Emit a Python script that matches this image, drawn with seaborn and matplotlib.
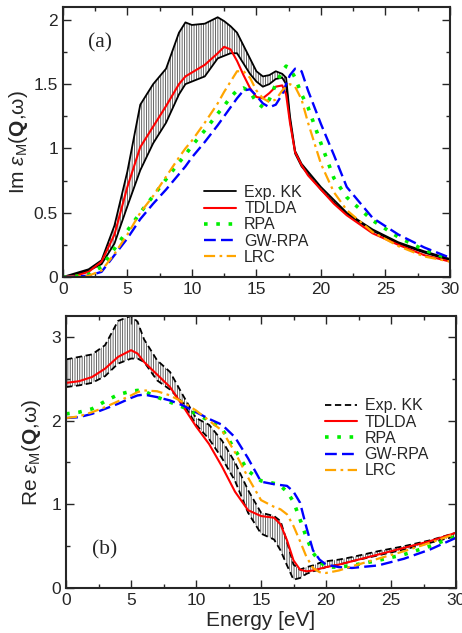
import numpy as np
import pandas as pd
import matplotlib
matplotlib.use("Agg")
import matplotlib.pyplot as plt
from matplotlib.ticker import MultipleLocator, FormatStrFormatter
import seaborn as sns

# ---------------- data: panel (a) Im eps ----------------
energy_a = [0, 1, 2, 3, 4, 5, 6, 7, 8, 9, 9.5, 10, 11, 12, 12.5, 13, 13.5, 14, 14.5,
            15, 15.5, 16, 16.5, 17, 17.3, 17.6, 18, 18.5, 19, 20, 21, 22, 24, 26, 28, 30]
exp_up_a = [0, 0.03, 0.06, 0.13, 0.4, 0.82, 1.34, 1.5, 1.62, 1.9, 1.98, 1.96, 1.97, 2.02,
            1.99, 1.95, 1.9, 1.8, 1.7, 1.6, 1.56, 1.57, 1.6, 1.58, 1.55, 1.25, 0.98, 0.88,
            0.82, 0.7, 0.6, 0.5, 0.37, 0.27, 0.2, 0.14]
exp_lo_a = [0, 0.02, 0.05, 0.1, 0.26, 0.55, 0.83, 1.04, 1.2, 1.42, 1.5, 1.52, 1.56, 1.7,
            1.72, 1.74, 1.74, 1.66, 1.58, 1.52, 1.48, 1.5, 1.54, 1.55, 1.5, 1.22, 0.96,
            0.86, 0.8, 0.68, 0.58, 0.49, 0.36, 0.26, 0.19, 0.13]
tdlda_a = [0, 0.01, 0.04, 0.12, 0.33, 0.7, 1.01, 1.17, 1.33, 1.5, 1.56, 1.59, 1.65, 1.74,
           1.79, 1.77, 1.68, 1.57, 1.47, 1.40, 1.39, 1.43, 1.48, 1.49, 1.42, 1.2, 0.97,
           0.87, 0.79, 0.68, 0.57, 0.48, 0.34, 0.25, 0.17, 0.12]
rpa_a = [0, 0.005, 0.02, 0.08, 0.22, 0.36, 0.5, 0.63, 0.76, 0.89, 0.95, 1.02, 1.14, 1.27,
         1.33, 1.4, 1.45, 1.47, 1.44, 1.36, 1.32, 1.38, 1.5, 1.6, 1.64, 1.62, 1.55, 1.42,
         1.32, 1.04, 0.77, 0.62, 0.44, 0.31, 0.21, 0.14]
gwrpa_a = [0, 0.003, 0.01, 0.04, 0.17, 0.3, 0.45, 0.57, 0.68, 0.8, 0.86, 0.93, 1.05, 1.18,
           1.25, 1.32, 1.39, 1.45, 1.46, 1.41, 1.35, 1.32, 1.34, 1.42, 1.5, 1.57, 1.62,
           1.6, 1.45, 1.19, 0.95, 0.7, 0.46, 0.33, 0.23, 0.15]
lrc_a = [0, 0.003, 0.01, 0.05, 0.18, 0.33, 0.5, 0.63, 0.78, 0.93, 1.0, 1.06, 1.2, 1.35,
         1.44, 1.52, 1.6, 1.6, 1.55, 1.45, 1.39, 1.36, 1.38, 1.45, 1.48, 1.5, 1.48, 1.38,
         1.2, 0.88, 0.66, 0.52, 0.35, 0.24, 0.16, 0.12]

# ---------------- data: panel (b) Re eps ----------------
energy_b = [0, 1, 2, 3, 4, 5, 5.5, 6, 7, 8, 9, 10, 11, 12, 13, 14, 15, 16, 16.5, 17,
            17.5, 18, 18.5, 19, 19.5, 20, 21, 22, 24, 26, 28, 30]
exp_up_b = [2.73, 2.76, 2.79, 2.9, 3.19, 3.25, 3.18, 2.97, 2.72, 2.58, 2.3, 2.03, 1.95,
            1.76, 1.5, 1.17, 0.9, 0.86, 0.8, 0.55, 0.28, 0.22, 0.25, 0.27, 0.3, 0.32,
            0.34, 0.37, 0.44, 0.5, 0.57, 0.66]
exp_lo_b = [2.4, 2.42, 2.45, 2.53, 2.68, 2.74, 2.74, 2.7, 2.48, 2.37, 2.21, 1.95, 1.78,
            1.55, 1.28, 0.9, 0.65, 0.58, 0.45, 0.27, 0.1, 0.12, 0.17, 0.2, 0.22, 0.25,
            0.28, 0.32, 0.39, 0.46, 0.54, 0.62]
tdlda_b = [2.45, 2.47, 2.52, 2.62, 2.76, 2.84, 2.8, 2.7, 2.55, 2.4, 2.17, 1.93, 1.72,
           1.45, 1.15, 0.93, 0.86, 0.84, 0.76, 0.57, 0.33, 0.22, 0.2, 0.21, 0.23, 0.25,
           0.28, 0.32, 0.4, 0.48, 0.56, 0.66]
rpa_b = [2.08, 2.1, 2.14, 2.23, 2.31, 2.35, 2.36, 2.35, 2.28, 2.22, 2.16, 2.08, 2.0, 1.9,
         1.65, 1.4, 1.28, 1.25, 1.22, 1.15, 1.03, 0.82, 0.6, 0.42, 0.32, 0.25, 0.25, 0.27,
         0.33, 0.4, 0.5, 0.62]
gwrpa_b = [2.03, 2.04, 2.08, 2.14, 2.2, 2.27, 2.3, 2.31, 2.28, 2.24, 2.18, 2.1, 2.02,
           1.95, 1.8, 1.55, 1.27, 1.24, 1.23, 1.22, 1.15, 1.02, 0.72, 0.45, 0.34, 0.28,
           0.25, 0.24, 0.27, 0.35, 0.46, 0.6]
lrc_b = [2.03, 2.05, 2.1, 2.16, 2.23, 2.3, 2.34, 2.36, 2.35, 2.3, 2.22, 2.12, 2.0, 1.88,
         1.62, 1.32, 1.05, 0.97, 0.94, 0.88, 0.74, 0.56, 0.37, 0.24, 0.19, 0.18, 0.21,
         0.26, 0.35, 0.44, 0.54, 0.65]

labels = ["Exp. KK", "TDLDA", "RPA", "GW-RPA", "LRC"]

sns.set_style("ticks")
plt.rcParams["font.family"] = ["Liberation Sans", "DejaVu Sans"]
plt.rcParams["mathtext.fontset"] = "custom"
plt.rcParams["mathtext.rm"] = "Liberation Sans"
plt.rcParams["mathtext.it"] = "Liberation Sans:italic"
plt.rcParams["mathtext.bf"] = "Liberation Sans:bold"
plt.rcParams["hatch.linewidth"] = 0.6

fig = plt.figure(figsize=(4.62, 6.33), dpi=100)
ax1 = fig.add_axes([0.136, 0.5624, 0.838, 0.4266])
ax2 = fig.add_axes([0.143, 0.071, 0.844, 0.430])

styles = {
    "TDLDA": dict(color="#ff0000", lw=1.5),
    "RPA": dict(color="#00ee00", lw=2.6, dashes=(1.0, 2.4)),
    "GW-RPA": dict(color="#0000ff", lw=1.7, dashes=(5, 2.2)),
    "LRC": dict(color="#ffa500", lw=1.6, dashes=(5, 2, 1.2, 2)),
}


def draw(ax, energy, up, lo, theo, exp_dashed):
    df = pd.DataFrame({"E": energy, "up": up, "lo": lo,
                       "TDLDA": theo[0], "RPA": theo[1], "GW-RPA": theo[2], "LRC": theo[3]})
    ax.fill_between(df["E"], df["lo"], df["up"], facecolor="none",
                    edgecolor="0.3", hatch="|||||||", linewidth=0)
    exp_kw = dict(color="black", lw=1.3)
    if exp_dashed:
        exp_kw["dashes"] = (3.5, 2)
    sns.lineplot(data=df, x="E", y="up", ax=ax, label="Exp. KK", **exp_kw)
    sns.lineplot(data=df, x="E", y="lo", ax=ax, label="_nolegend_", **exp_kw)
    for name in ["TDLDA", "RPA", "GW-RPA", "LRC"]:
        sns.lineplot(data=df, x="E", y=name, ax=ax, label=name, **styles[name])


draw(ax1, energy_a, exp_up_a, exp_lo_a, [tdlda_a, rpa_a, gwrpa_a, lrc_a], False)
draw(ax2, energy_b, exp_up_b, exp_lo_b, [tdlda_b, rpa_b, gwrpa_b, lrc_b], True)

for ax in (ax1, ax2):
    ax.set_xlim(0, 30)
    ax.xaxis.set_major_locator(MultipleLocator(5))
    ax.xaxis.set_minor_locator(MultipleLocator(2.5))
    ax.tick_params(which="both", direction="in", top=True, right=True, labelsize=12.5)
    ax.tick_params(which="major", length=6, width=1.0)
    ax.tick_params(which="minor", length=3, width=1.0)
    for s in ax.spines.values():
        s.set_linewidth(1.5)
    ax.yaxis.set_major_formatter(FormatStrFormatter("%g"))

ax1.set_ylim(0, 2.1)
ax1.yaxis.set_major_locator(MultipleLocator(0.5))
ax1.yaxis.set_minor_locator(MultipleLocator(0.25))
ax2.set_ylim(0, 3.25)
ax2.yaxis.set_major_locator(MultipleLocator(1))
ax2.yaxis.set_minor_locator(MultipleLocator(0.5))

ax1.set_xlabel("")
ax1.set_ylabel(r"Im $\varepsilon_{\mathrm{M}}$($\mathbf{Q}$,ω)", fontsize=15)
ax1.yaxis.set_label_coords(-0.085, 0.5)
ax2.set_ylabel(r"Re $\varepsilon_{\mathrm{M}}$($\mathbf{Q}$,ω)", fontsize=15)
ax2.yaxis.set_label_coords(-0.058, 0.5)
ax2.set_xlabel("Energy [eV]", fontsize=15)
ax2.xaxis.set_label_coords(0.5, -0.085)

ax1.text(0.096, 0.867, "(a)", transform=ax1.transAxes, ha="center", va="center",
         fontsize=15.5, family="Liberation Serif")
ax2.text(0.099, 0.14, "(b)", transform=ax2.transAxes, ha="center", va="center",
         fontsize=15.5, family="Liberation Serif")

leg_kw = dict(frameon=False, fontsize=11.5, handlelength=2.0, handletextpad=0.5,
              labelspacing=0.08, borderpad=0.2)
ax1.legend(loc="center", bbox_to_anchor=(0.50, 0.193), **leg_kw)
ax2.legend(loc="center", bbox_to_anchor=(0.797, 0.55), **leg_kw)

fig.savefig("out.png", dpi=100)
